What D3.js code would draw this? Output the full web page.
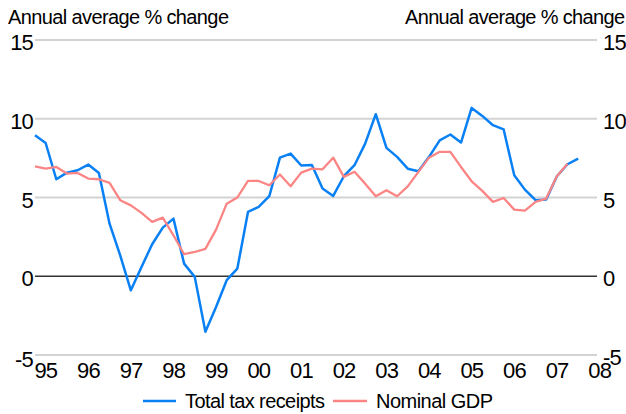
<!DOCTYPE html>
<html>
<head>
<meta charset="utf-8">
<script src="https://cdn.jsdelivr.net/npm/d3@7"></script>
<style>
  html, body { margin: 0; padding: 0; background: #fff; }
  svg { display: block; }
  text { font-family: "Liberation Sans", Arial, sans-serif; fill: #000; }
</style>
</head>
<body>
<svg id="chart" width="626" height="414"></svg>
<script>
// Quarterly observations, 1995 Q1 onwards
const taxReceipts = [
  8.95, 8.46, 6.16, 6.58, 6.73, 7.09, 6.56, 3.34,
  1.33, -0.89, 0.59, 2.03, 3.09, 3.66, 0.80, -0.04,
  -3.53, -1.95, -0.25, 0.49, 4.08, 4.40, 5.08, 7.53,
  7.79, 7.03, 7.07, 5.57, 5.10, 6.35, 7.05, 8.42,
  10.29, 8.15, 7.58, 6.83, 6.67, 7.58, 8.63, 9.00,
  8.49, 10.69, 10.18, 9.59, 9.33, 6.41, 5.50, 4.83,
  4.87, 6.35, 7.11, 7.47
];
const nominalGDP = [
  6.98, 6.83, 6.94, 6.52, 6.56, 6.20, 6.16, 5.93,
  4.83, 4.50, 4.02, 3.45, 3.72, 2.60, 1.40, 1.54,
  1.74, 2.96, 4.61, 5.00, 6.05, 6.05, 5.78, 6.46,
  5.71, 6.58, 6.83, 6.79, 7.53, 6.31, 6.63, 5.88,
  5.08, 5.46, 5.08, 5.71, 6.63, 7.53, 7.90, 7.90,
  6.94, 6.03, 5.42, 4.72, 4.97, 4.23, 4.17, 4.72,
  4.93, 6.35, 7.15
];
const yearLabels = ["95","96","97","98","99","00","01","02","03","04","05","06","07","08"];
const yTicks = [-5, 0, 5, 10, 15];
const axisTitle = "Annual average % change";
const seriesNames = ["Total tax receipts", "Nominal GDP"];

const svg = d3.select("#chart");
const plotLeft = 35, plotRight = 597, plotTop = 40, plotBottom = 355;

const x = d3.scaleLinear().domain([0, 52.77]).range([plotLeft, plotRight]);
const y = d3.scaleLinear().domain([-5, 15]).range([plotBottom, plotTop]);

// gridlines
svg.append("g").selectAll("line")
  .data(yTicks.filter(d => d !== 0))
  .join("line")
  .attr("x1", plotLeft).attr("x2", plotRight)
  .attr("y1", d => y(d)).attr("y2", d => y(d))
  .attr("stroke", "#d3d3d3").attr("stroke-width", 1.8);

svg.append("line")
  .attr("x1", plotLeft).attr("x2", plotRight)
  .attr("y1", y(0)).attr("y2", y(0))
  .attr("stroke", "#333").attr("stroke-width", 1.6);

// y tick labels (left and right)
svg.append("g").selectAll("text")
  .data(yTicks).join("text")
  .attr("x", 33).attr("y", d => y(d) + (d < 0 ? 12 : 10))
  .attr("text-anchor", "end")
  .attr("font-size", 22).attr("letter-spacing", -0.8)
  .text(d => d);

svg.append("g").selectAll("text")
  .data(yTicks).join("text")
  .attr("x", 603).attr("y", d => y(d) + 10)
  .attr("text-anchor", "start")
  .attr("font-size", 22).attr("letter-spacing", -0.8)
  .text(d => d);

// x labels
svg.append("g").selectAll("text")
  .data(yearLabels).join("text")
  .attr("x", (d, i) => x(i * 4) - 0.5)
  .attr("y", 378)
  .attr("text-anchor", "start")
  .attr("font-size", 22).attr("letter-spacing", -0.9)
  .text(d => d);

// axis titles
svg.append("text").attr("x", 8).attr("y", 24)
  .attr("font-size", 20).attr("textLength", 221).attr("lengthAdjust", "spacing")
  .text(axisTitle);
svg.append("text").attr("x", 405).attr("y", 24)
  .attr("font-size", 20).attr("textLength", 220).attr("lengthAdjust", "spacing")
  .text(axisTitle);

// lines
const line = d3.line().x((d, i) => x(i)).y(d => y(d));
svg.append("path").datum(taxReceipts)
  .attr("d", line).attr("fill", "none")
  .attr("stroke", "#0a80f5").attr("stroke-width", 2.5).attr("stroke-linejoin", "round");
svg.append("path").datum(nominalGDP)
  .attr("d", line).attr("fill", "none")
  .attr("stroke", "#fb8585").attr("stroke-width", 2.3).attr("stroke-linejoin", "round");

// legend
const legend = [
  { name: seriesNames[0], color: "#0a80f5", x1: 143, x2: 176, tx: 185, tw: 140 },
  { name: seriesNames[1], color: "#fb8585", x1: 333, x2: 367, tx: 376, tw: 117 }
];
const lg = svg.append("g");
legend.forEach(l => {
  lg.append("line").attr("x1", l.x1).attr("x2", l.x2).attr("y1", 401).attr("y2", 401)
    .attr("stroke", l.color).attr("stroke-width", 2.5);
  lg.append("text").attr("x", l.tx).attr("y", 408)
    .attr("font-size", 20).attr("textLength", l.tw).attr("lengthAdjust", "spacing")
    .text(l.name);
});
</script>
</body>
</html>
